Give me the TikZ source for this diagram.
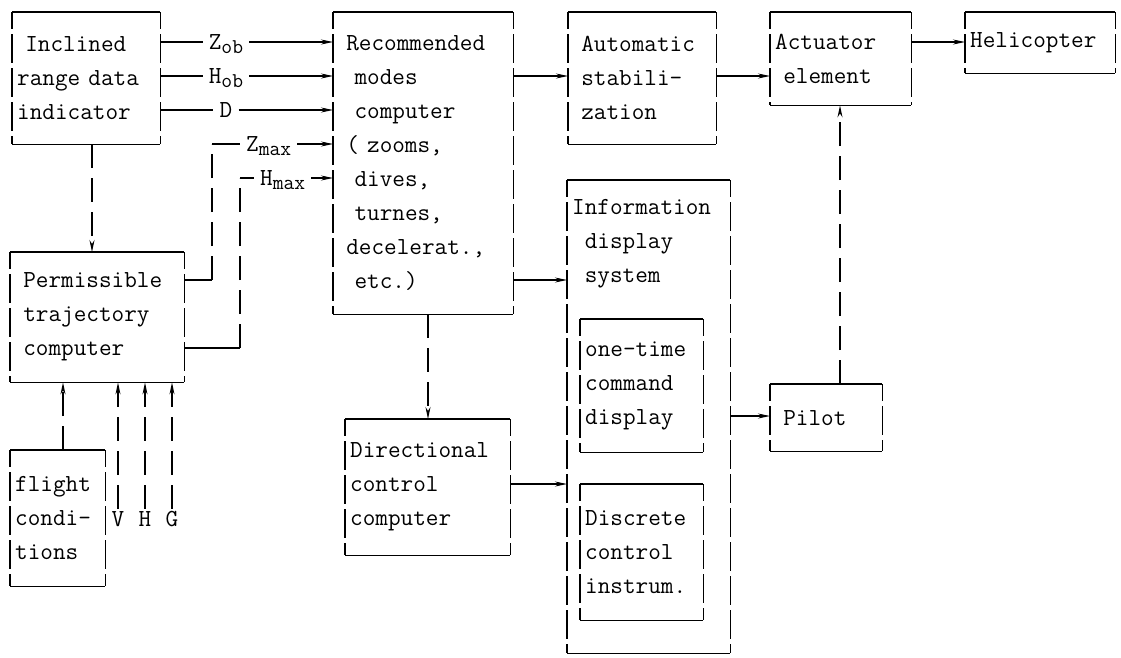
\documentclass[tikz,border=0pt]{standalone}
\usepackage{fontspec}
\usetikzlibrary{arrows.meta}
\newcommand{\lowsub}[1]{\raisebox{-4.5pt}{\fontsize{21}{21}\selectfont #1}}
\begin{document}
\begin{tikzpicture}[x=1pt,y=-1pt,
  every node/.style={font=\ttfamily\fontsize{24.5}{34}\selectfont},
  box/.style={anchor=north west, inner xsep=5pt, inner ysep=0pt, align=left},
  lbl/.style={inner xsep=6pt, inner ysep=1pt},
  ln/.style={line width=1.1pt},
  side/.style={ln, dash pattern=on 29pt off 5pt, dash phase=-22pt},
  arr/.style={ln, -{Stealth[length=12pt,width=5pt]}},
  vd/.style={ln, dash pattern=on 24pt off 10pt},
  vdarr/.style={vd, -{Stealth[length=12pt,width=5pt]}}
]
\useasboundingbox (0,0) rectangle (1121,657);
\foreach \k in {1,...,19}{\coordinate (R\k) at (0,{42+34*(\k-1)});}

% boxes
\node[box, text width=138pt, minimum height=132pt] (A) at (12,12) {~Inclined\\range data\\indicator};
\node[box, text width=170pt, minimum height=302pt] (B) at (333,12) {~Recommended\\~~modes\\~~computer\\~(~zooms,\\~~dives,\\~~turnes,\\~decelerat.,\\~~etc.)};
\node[box, text width=138pt, minimum height=132pt] (C) at (568,12) {~Automatic\\~stabili-\\~zation};
\node[box, text width=131pt, minimum height=93pt] (D) at (770,12) {Actuator\\~element};
\node[box, text width=140pt, minimum height=61pt] (E) at (965,12) {Helicopter};
\node[box, text width=164pt, minimum height=130pt] (F) at (10,252) {~Permissible\\~trajectory\\~computer};
\node[box, text width=85pt, minimum height=136pt] (G) at (10,450) {flight\\condi-\\tions};
\node[box, text width=153pt, minimum height=473pt] (I) at (567,180) {};
\node[anchor=west, align=left, inner xsep=5pt] (Itxt) at (567,244) {Information\\~display\\~system};
\node[box, text width=113pt, minimum height=133pt] (J1) at (580,319) {one-time\\command\\display};
\node[box, text width=113pt, minimum height=136pt] (J2) at (580,484) {Discrete\\control\\instrum.};
\node[box, text width=155pt, minimum height=136pt] (K) at (345,419) {Directional\\control\\computer};
\node[box, text width=102pt, minimum height=67pt] (P) at (770,384) {~Pilot};

\foreach \n in {A,B,C,D,E,F,G,I,J1,J2,K,P}{
  \draw[ln] (\n.north west) -- (\n.north east);
  \draw[ln] (\n.south west) -- (\n.south east);
  \draw[side] (\n.north west) -- (\n.south west);
  \draw[side] (\n.north east) -- (\n.south east);
}

% labels
\node[lbl, anchor=base] (Zob) at (226,49) {Z\lowsub{ob}};
\node[lbl, anchor=base] (Hob) at (226,83) {H\lowsub{ob}};
\node[lbl, anchor=base] (Dl) at (226,117) {D};
\node[lbl, anchor=base west] (Zmax) at (240,151) {Z\lowsub{max}};
\node[lbl, anchor=base west] (Hmax) at (254,185) {H\lowsub{max}};
\node[inner sep=2pt, anchor=base] (V) at (118,526) {V};
\node[inner sep=2pt, anchor=base] (H) at (145,526) {H};
\node[inner sep=2pt, anchor=base] (Gl) at (172,526) {G};

% connectors
\draw[ln] (A.east |- R1) -- (Zob.west |- R1);
\draw[arr] (Zob.east |- R1) -- (B.west |- R1);
\draw[ln] (A.east |- R2) -- (Hob.west |- R2);
\draw[arr] (Hob.east |- R2) -- (B.west |- R2);
\draw[ln] (A.east |- R3) -- (Dl.west |- R3);
\draw[arr] (Dl.east |- R3) -- (B.west |- R3);

\coordinate (zc) at (212,0);
\draw[ln] (F.east |- R8) -- (zc |- R8);
\draw[vd] (zc |- R8) -- (zc |- R4);
\draw[ln] (zc |- R4) -- (Zmax.west |- R4);
\draw[arr] (Zmax.east |- R4) -- (B.west |- R4);
\coordinate (hc) at (240,0);
\draw[ln] (F.east |- R10) -- (hc |- R10);
\draw[vd] (hc |- R10) -- (hc |- R5);
\draw[ln] (hc |- R5) -- (Hmax.west |- R5);
\draw[arr] (Hmax.east |- R5) -- (B.west |- R5);

\coordinate (ac) at (92,0);
\draw[vdarr] (ac |- A.south) -- (ac |- F.north);
\coordinate (gc) at (63,0);
\draw[vdarr] (gc |- G.north) -- (gc |- F.south);
\draw[vdarr] (V.north) -- (V.north |- F.south);
\draw[vdarr] (H.north) -- (H.north |- F.south);
\draw[vdarr] (Gl.north) -- (Gl.north |- F.south);

\draw[arr] (B.east |- R2) -- (C.west |- R2);
\draw[arr] (B.east |- R8) -- (I.west |- R8);
\draw[arr] (C.east |- R2) -- (D.west |- R2);
\draw[arr] (D.east |- R1) -- (E.west |- R1);
\coordinate (bc) at (428,0);
\draw[vdarr] (bc |- B.south) -- (bc |- K.north);
\draw[arr] (K.east |- R14) -- (I.west |- R14);
\draw[arr] (I.east |- R12) -- (P.west |- R12);
\coordinate (pc) at (840,0);
\draw[vdarr] (pc |- P.north) -- (pc |- D.south);
\end{tikzpicture}
\end{document}
